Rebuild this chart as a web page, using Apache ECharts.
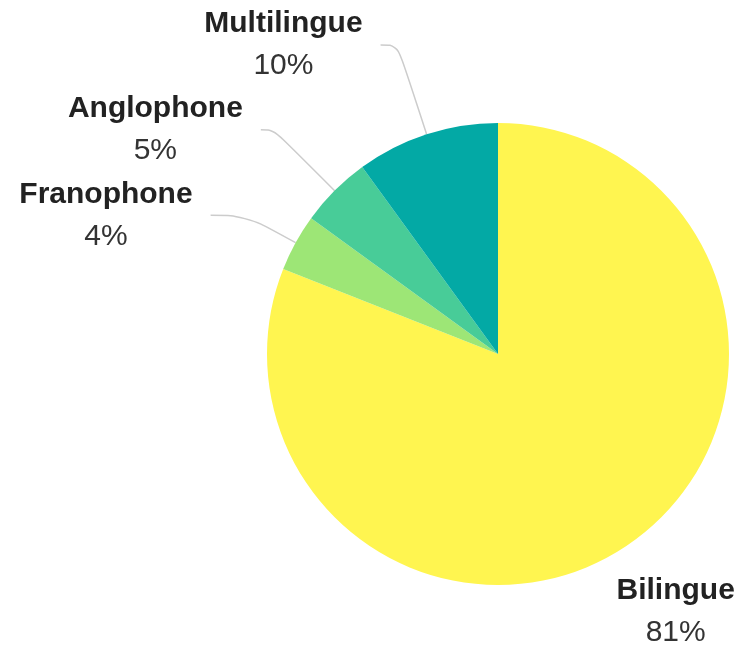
<!DOCTYPE html>
<html>
<head>
<meta charset="utf-8">
<script src="https://cdn.jsdelivr.net/npm/echarts@6/dist/echarts.min.js"></script>
<style>
  html, body { margin: 0; padding: 0; background: #fff; }
  #chart { width: 739px; height: 647px; }
</style>
</head>
<body>
<div id="chart"></div>
<script>
// Data
var categories = ['Bilingue', 'Franophone', 'Anglophone', 'Multilingue'];
var values = [81, 4, 5, 10];

// Styling (not data)
var colors = ['#FFF550', '#9DE676', '#48CC98', '#03A9A5'];
var lineLengths = [
  { length: 81, length2: 0, show: false, alignTo: 'edge', edge: 79 },
  { length: 57, length2: 35, show: true, alignTo: 'none', edge: 4 },
  { length: 86, length2: 13, show: true, alignTo: 'none', edge: 4 },
  { length: 94, length2: 17, show: true, alignTo: 'none', edge: 4 }
];

var seriesData = categories.map(function (name, i) {
  var s = lineLengths[i];
  return {
    name: name,
    value: values[i],
    itemStyle: { color: colors[i] },
    label: { alignTo: s.alignTo, edgeDistance: s.edge, overflow: 'none' },
    labelLine: { show: s.show, length: s.length, length2: s.length2 }
  };
});

var chart = echarts.init(document.getElementById('chart'));
chart.setOption({
  animation: false,
  series: [{
    type: 'pie',
    center: [498, 354],
    radius: 231,
    startAngle: 90,
    clockwise: true,
    avoidLabelOverlap: true,
    data: seriesData,
    label: {
      show: true,
      position: 'outside',
      overflow: 'none',
      distanceToLabelLine: 18,
      fontFamily: '"Liberation Sans", Arial, sans-serif',
      formatter: '{n|{b}}\n{p|{c}%}',
      rich: {
        n: {
          fontSize: 30, fontWeight: 'bold', color: '#222222',
          lineHeight: 42, align: 'center',
          fontFamily: '"Liberation Sans", Arial, sans-serif'
        },
        p: {
          fontSize: 30, fontWeight: 'normal', color: '#333333',
          lineHeight: 42, align: 'center',
          fontFamily: '"Liberation Sans", Arial, sans-serif'
        }
      }
    },
    labelLine: {
      smooth: 0.4,
      lineStyle: { color: '#cccccc', width: 1.5 }
    },
    itemStyle: { borderWidth: 0 },
    emphasis: { disabled: true }
  }]
});
</script>
</body>
</html>
